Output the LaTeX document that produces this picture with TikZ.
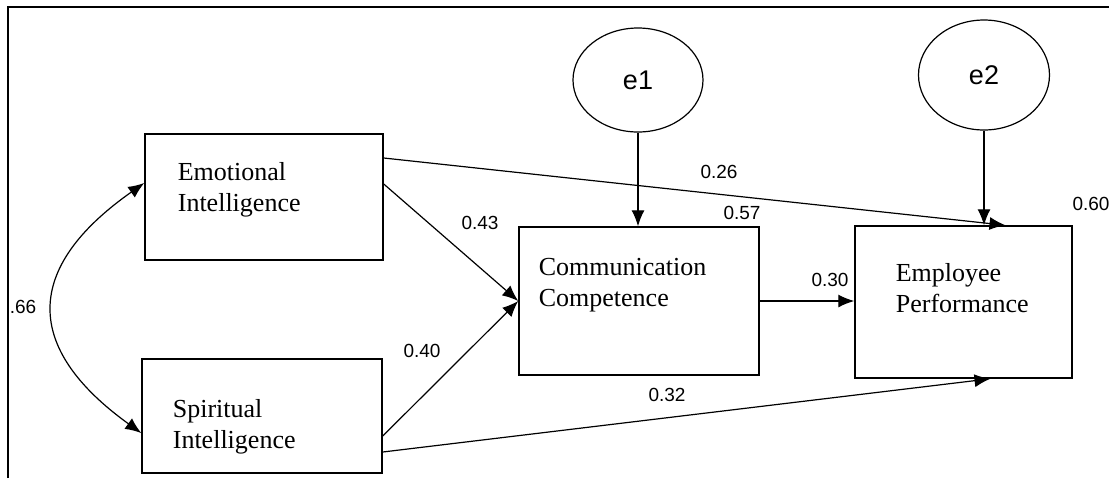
\documentclass[tikz,border=0pt]{standalone}
\usepackage{fontspec}
\setmainfont{Liberation Serif}
\newfontfamily\numfont{Liberation Sans}
\usetikzlibrary{arrows.meta}
\usetikzlibrary{shapes.geometric}
\tikzset{>={Latex[length=8pt,width=6.5pt]}}
\tikzset{
  var/.style={draw, line width=0.75pt, inner sep=0pt},
  err/.style={draw, ellipse, line width=0.6pt, inner sep=0pt,
    font=\numfont\fontsize{13.5}{16}\selectfont},
  varname/.style={anchor=north west, inner sep=0pt, align=left,
    font=\fontsize{13}{15.5}\selectfont},
  coef/.style={inner sep=0pt, font=\numfont\fontsize{9.5}{11}\selectfont},
}

\begin{document}
\begin{tikzpicture}[x=0.5pt, y=-0.5pt, line width=0.6pt]
      \useasboundingbox (0,0) rectangle (1109,478);
      % frame
      \draw[line width=0.8pt] (8,478) -- (8,7) -- (1109,7);
      % variables
      \node[var, minimum width=119pt, minimum height=63pt] (emo) at (264,197) {};
      \node[var, minimum width=120pt, minimum height=57pt] (spi) at (262,416) {};
      \node[var, minimum width=120pt, minimum height=74pt] (comm) at (639,301) {};
      \node[var, minimum width=108.5pt, minimum height=76pt] (emp) at (963.5,302) {};
      \node[varname] (emotxt) at ([shift={(33,29)}]emo.north west) {Emotional\\Intelligence};
      \node[varname] (spitxt) at ([shift={(31,41)}]spi.north west) {Spiritual\\Intelligence};
      \node[varname] (commtxt) at ([shift={(20,31)}]comm.north west) {Communication\\Competence};
      \node[varname] (emptxt) at ([shift={(41,38)}]emp.north west) {Employee\\Performance};
      % errors
      \node[err, minimum width=65pt, minimum height=52pt] (e1) at (638,80) {e1};
      \node[err, minimum width=65.5pt, minimum height=55pt] (e2) at (984,75) {e2};
      % paths
      \draw[->] (e1.south) -- (e1.south |- comm.north);
      \draw[->] (e2.south) -- (e2.south |- emp.north);
      \draw[->] ([shift={(0,-39)}]emo.east) -- ([shift={(42,0)}]emp.north);
      \draw[->] ([shift={(0,-13)}]emo.east) -- (comm.west);
      \draw[->] ([shift={(0,20)}]spi.east) -- (comm.west);
      \draw[->] ([shift={(0,36)}]spi.east) -- ([shift={(27,0)}]emp.south);
      \draw[->] (comm.east) -- (comm.east -| emp.west);
      \draw[<->] ([shift={(0,-14)}]emo.west) .. controls +(-121,85) and +(-118,-85) .. ([shift={(0,17)}]spi.west);
      % estimates
      \node[coef] (c26) at (719,172) {0.26};
      \node[coef] (c43) at (480,223) {0.43};
      \node[coef] (c57) at (742,213) {0.57};
      \node[coef] (c30) at (830,280) {0.30};
      \node[coef] (c40) at (422,351) {0.40};
      \node[coef] (c32) at (667,395) {0.32};
      \node[coef] (c60) at (1091,204) {0.60};
      \node[coef] (c66) at (23,307) {.66};
\end{tikzpicture}
\end{document}
